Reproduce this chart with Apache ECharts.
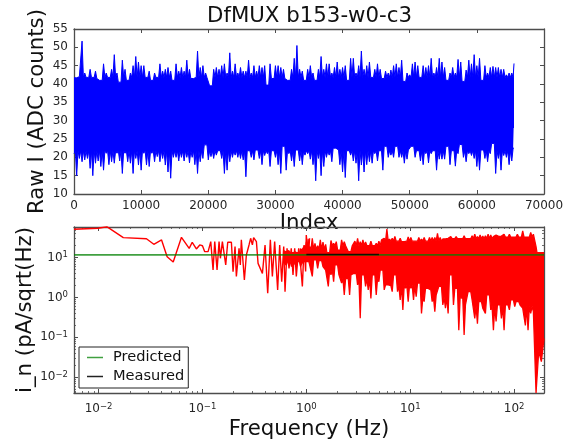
<!DOCTYPE html>
<html><head><meta charset="utf-8">
<style>html,body{margin:0;padding:0;background:#fff}#c{width:575px;height:442px}</style>
<script src="https://cdn.jsdelivr.net/npm/echarts@6/dist/echarts.min.js"></script></head>
<body><div id="c"></div>
<script>
const titleText = 'DfMUX b153-w0-c3';
const indexStep = 400, lastIndex = 65536;
const rawCoreTop = 41.8, rawCoreBottom = 21.8;
const rawUpper = [41.7,41.7,42,51.7,43,42,44,42,43.5,41.5,41,45.5,43,42,44,48,43,40.5,46.5,44,41,43,45,47.5,46,45,45,42,43.5,41,43,42,45.5,43.5,44,44.5,43.5,41,45.5,43.5,44.5,43.5,46.5,44,41.5,42,49,44.5,45,43,42,39.5,44,44.5,44,45,45.5,
43,48.5,43.5,45.5,43,44.5,43.5,43.5,46.5,43,45,43.5,45,44.5,45,39.7,45.5,41.5,45,45,44.5,44,41.5,41,44,47,50.5,44,43.5,41,44,45,43,41,44,47.5,44,45.5,45.5,43,44.5,46,44,44.5,45,41,47,47,43,45,49,44,45,46,42,44,45.5,
44,41.5,43.5,43,43.8,45,45.5,44.5,46.5,40.7,43,42.5,45.5,46,45,42,45,44.5,45,47,43,44.5,47,46,44.5,41,43,44.5,43,46.7,46,40.7,43.8,46.5,45.5,48,45,47,41,45,43,44.5,44.8,44.5,44.5,44,44,42.5,43,43,45.6];
const rawLower = [21,15,19.7,18.8,19.3,19.7,17,15,18.4,19,17.5,16.5,21.1,18,18.8,18.4,21.1,19,15.6,21.1,18.8,18.4,15.6,19.7,17.9,16.5,21.1,17.9,17.5,21.1,18.8,20.2,18.8,19.7,17.9,16,14.3,20,20,19,20,19,20,18.5,20,18,15.6,18.8,19.7,23.4,19.3,20.2,19.7,20.6,21.5,19.7,15.6,
16.5,18.8,20,20.6,20,19.7,19.3,14.7,21.5,20,19.3,22,19.7,18,20.5,21,17.5,21.5,20,18,15.6,23,16.5,21,19,17.5,22,19,18,20.6,21,19.5,18,13.6,19.7,15,17.5,20,20.6,18.8,22.5,22,18,16,14.5,21.5,20.6,19,18.4,13.6,17.9,16,18,18.8,18.4,21,19,
21.5,16.5,23,20,20.6,20,23,20,20,18.4,19.5,22,23,20,21.5,19,18,21,18.5,21,21.5,16.5,19.5,19.5,19.5,23,18,21.5,17.6,21,23.5,20,18.8,21,20.5,19.7,17.5,16.5,22,19.7,18.8,21,23.8,15.6,19.7,16.5,20.5,20,18,19,22.5];

const lowFreq = [0.0058,0.0099,0.012,0.0173,0.0289,0.034,0.0404,0.0457,0.0523,0.0628,0.0745,0.0797,0.0874,0.0942,0.1,0.1052,0.1133,0.1202,0.1265,0.1313,0.1382,0.1445,0.1488,0.1555,0.1675,0.1751,0.1899,0.197,0.2059,0.212,0.225,0.2315,0.2368,0.2532,0.2647,0.2807,0.291,0.3024,0.311,0.3306,0.343,0.3777,0.4004,0.4248,0.4503,0.471,0.4955,0.5294,0.5539,0.5793,0.6057,0.6236,0.6519,0.6811,0.7159,0.7442,0.7724,0.8007,0.844,0.8827,0.9156,0.9514,0.9844,0.9985,1.046,1.074];
const lowNoise = [52,55,60,32,30,21.7,27.9,10.6,7.8,32.5,17.2,24.4,16.6,20.9,20,14.2,14.2,25.3,4.9,25.3,4.9,25.3,9.66,25.3,6.6,24.5,24.5,4.46,19,3.4,17.2,6.6,28,2.75,11.7,20.9,30.7,20.9,32,25.3,7.2,4,20.9,1.28,28,3.4,25.3,1.55,20.9,2.5,19,1.4,17.2,5.4,17.2,3.7,17.2,3.4,17.2,6,1.9,20.9,4.5,37,9.7,30.7];
const bandFreq = [0.6,0.64,0.68,0.72,0.76,0.8,0.84,0.88,0.92,0.96,1.0,1.04,1.076,1.141,1.211,1.285,1.363,1.446,1.534,1.627,1.726,1.831,1.942,2.06,2.185,2.318,2.459,2.609,2.767,2.935,3.114,3.303,3.504,3.717,3.943,4.183,4.437,4.707,4.993,5.297,5.619,5.961,6.323,6.708,7.116,7.548,8.007,8.494,9.011,9.559,10.14,10.76,11.41,12.1,12.84,13.62,14.45,15.33,16.26,17.25,18.3,19.41,20.59,21.84,23.17,24.58,26.08,27.66,29.35,31.13,33.02,35.03,37.16,39.42,41.82,44.36,47.06,49.92,52.96,56.18,59.59,63.22,67.06,71.14,75.47,80.06,84.92,90.09,95.57,101.4,107.5,114.1,121,128.4,136.2,144.5,153.3,162.6,172.5,183,194];
const bandUpper = [15,14,15,13,14,15,13,17,15,20,25,30,19,30.7,23,20,28,24.5,21.5,13,27,23,25.3,15.5,28,25.3,21.5,14.2,20,26,30.7,25.3,28,25,21,26,21,23,26,28,30.7,52,29.5,30.7,34,28,30.7,25.3,28,33,32,29,28,32,29.5,32,
28,32,32,32,41,32,29.5,29.5,30.7,34,32,34,32,30.7,35.5,32,33,35.5,39,34,37,35,35.5,39,37,34,37,34.5,35,39,35.5,39,35.5,35,39,37,47,37,35,43,39,19,7.2,2.3,2.07];
const bandLower = [8,6.5,8,6,7,6,8,6,7,8,8,8,6.6,3.4,8.8,5.4,8.4,6,4.9,1.9,3.7,2.5,6.6,3.7,2.3,1.16,3,1.16,3.7,4,2.07,0.3,3.7,1.9,1.55,0.95,3.7,1.16,2.5,4.9,1.55,2.07,1.9,1.4,3.7,1.4,0.87,0.49,1.7,0.79,1.7,0.87,1.05,2.3,0.4,0.79,
1.7,1.55,0.79,0.44,1.16,1.9,0.65,0.54,0.4,3.7,0.65,1.7,0.15,0.95,0.115,0.65,1.4,0.87,0.3,0.22,0.79,0.54,0.4,1.16,0.49,0.15,0.25,0.65,0.3,0.15,0.65,0.49,0.87,0.59,0.79,0.65,0.54,0.2,0.15,0.4,0.44,0.004,0.044,0.0245,0.094];
// solid-core edges of the red band, read per frequency range [up to Hz, level]
const coreUpperSteps = [[1.7,16],[5,20],[20,26],[60,30],[150,33]];
const coreLowerSteps = [[2,5],[5,3],[12,2],[30,1],[150,0.6]];
const predictedFreq = [0.0058,194], predictedNoise = [11.8,11.8];
const measuredFreq = [1,5], measuredNoise = [12,12];
const freqMin = 0.0058, freqMax = 194, noiseMin = 0.004, noiseMax = 59;
const freqMinorTicks = [0.006,0.007,0.008,0.009,0.02,0.03,0.04,0.05,0.06,0.07,0.08,0.09,0.2,0.3,0.4,0.5,0.6,0.7,0.8,0.9,2,3,4,5,6,7,8,9,20,30,40,50,60,70,80,90];
const noiseMinorTicks = [0.004,0.005,0.006,0.007,0.008,0.009,0.02,0.03,0.04,0.05,0.06,0.07,0.08,0.09,0.2,0.3,0.4,0.5,0.6,0.7,0.8,0.9,2,3,4,5,6,7,8,9,20,30,40,50];

const font = 'DejaVu Sans';
const ink = '#262626', frame = '#4d4d4d';
const zip = (xs, ys) => xs.map((x, i) => [x, ys[i]]);

// peak, then a dip down to the solid core level, then the next peak
const rawSeries = (vals, core, pick) => {
  const out = [];
  vals.forEach((v, i) => {
    const x = Math.min(i * indexStep, lastIndex);
    out.push([x, v]);
    if (i < vals.length - 1) out.push([Math.min(x + indexStep / 2, lastIndex), pick(core, v, vals[i + 1])]);
  });
  return out;
};
const bandSeries = (vals, steps, pick) => {
  const out = [];
  vals.forEach((v, i) => {
    out.push([bandFreq[i], v]);
    if (i === vals.length - 1) return;
    const s = steps.find(p => bandFreq[i] < p[0]);
    if (s) out.push([Math.sqrt(bandFreq[i] * bandFreq[i + 1]), pick(s[1], v, vals[i + 1])]);
  });
  return out;
};

const powLabel = v => {
  const e = Math.log10(v), r = Math.round(e);
  if (Math.abs(e - r) > 1e-6) return '';
  return '10{s|' + String(r).replace('-', '\u2212') + '}';
};
const logLabel = {
  fontFamily: font, fontSize: 12, color: ink, formatter: powLabel,
  rich: { s: { fontFamily: font, fontSize: 8.5, color: ink, verticalAlign: 'top', padding: [0, 0, 5, 0] } }
};
const line = { show: true, onZero: false, lineStyle: { color: frame, width: 1.3 } };
const tick = { show: true, inside: true, length: 4, lineStyle: { color: frame, width: 1 } };
const nameStyle = { fontFamily: font, fontSize: 21.3, color: '#111' };
const off = { show: false };

const xLin = { type: 'value', min: 0, max: 70000, interval: 10000, splitLine: off, axisLine: line, axisTick: tick };
const yLin = { type: 'value', min: 10, max: 55, interval: 5, splitLine: off, axisLine: line, axisTick: tick };
const xLog = { type: 'log', logBase: 10, min: freqMin, max: freqMax, splitLine: off, axisLine: line, axisTick: tick };
const yLog = { type: 'log', logBase: 10, min: noiseMin, max: noiseMax, splitLine: off, axisLine: line, axisTick: tick };
const plain = { fontFamily: font, fontSize: 12, color: ink, formatter: v => String(v) };
const minorOf = (base, vals) => ({ ...base, axisLine: off, axisLabel: off, axisTick: { show: true, inside: true, length: 2, customValues: vals, lineStyle: { color: frame, width: 0.8 } } });

const option = {
  animation: false,
  backgroundColor: '#fff',
  title: { text: titleText, left: 207, top: 6, textStyle: { fontFamily: font, fontSize: 21.3, fontWeight: 'normal', color: '#111' }, padding: 0 },
  grid: [
    { left: 74, top: 29, width: 470, height: 165 },
    { left: 74, top: 227, width: 470, height: 166 }
  ],
  xAxis: [
    { ...xLin, gridIndex: 0, position: 'bottom', axisLabel: { ...plain, margin: 6 }, name: 'Index', nameLocation: 'middle', nameGap: 19, nameMoveOverlap: false, nameTextStyle: nameStyle },
    { ...xLin, gridIndex: 0, position: 'top', axisLabel: off },
    { ...xLog, gridIndex: 1, position: 'bottom', axisLabel: { ...logLabel, margin: 9 }, name: 'Frequency (Hz)', nameLocation: 'middle', nameGap: 26, nameMoveOverlap: false, nameTextStyle: nameStyle },
    { ...xLog, gridIndex: 1, position: 'top', axisLabel: off },
    { ...minorOf(xLog, freqMinorTicks), gridIndex: 1, position: 'bottom' },
    { ...minorOf(xLog, freqMinorTicks), gridIndex: 1, position: 'top' }
  ],
  yAxis: [
    { ...yLin, gridIndex: 0, position: 'left', axisLabel: { ...plain, margin: 6 }, name: 'Raw I (ADC counts)', nameLocation: 'middle', nameGap: 26, nameMoveOverlap: false, nameTextStyle: nameStyle },
    { ...yLin, gridIndex: 0, position: 'right', axisLabel: off },
    { ...yLog, gridIndex: 1, position: 'left', axisLabel: { ...logLabel, margin: 6 }, name: 'i_n (pA/sqrt(Hz)', nameLocation: 'middle', nameGap: 38, nameMoveOverlap: false, nameTextStyle: nameStyle },
    { ...yLog, gridIndex: 1, position: 'right', axisLabel: off },
    { ...minorOf(yLog, noiseMinorTicks), gridIndex: 1, position: 'left' },
    { ...minorOf(yLog, noiseMinorTicks), gridIndex: 1, position: 'right' }
  ],
  legend: {
    left: 79, top: 347, orient: 'vertical',
    data: [{ name: 'Predicted', icon: 'rect' }, { name: 'Measured', icon: 'rect' }],
    backgroundColor: '#fff', borderColor: '#222', borderWidth: 1, borderRadius: 0,
    padding: [3, 4, 4, 8], itemGap: 4, itemWidth: 16, itemHeight: 1.5,
    textStyle: { fontFamily: font, fontSize: 14.6, color: '#111', padding: [0, 0, 0, 5] }, z: 20
  },
  series: [
    { name: 'Raw upper', type: 'line', xAxisIndex: 0, yAxisIndex: 0, data: rawSeries(rawUpper, rawCoreTop, Math.min), symbol: 'none', lineStyle: { color: '#0000ff', width: 1 }, areaStyle: { color: '#0000ff', opacity: 1, origin: 28 } },
    { name: 'Raw lower', type: 'line', xAxisIndex: 0, yAxisIndex: 0, data: rawSeries(rawLower, rawCoreBottom, Math.max), symbol: 'none', lineStyle: { color: '#0000ff', width: 1 }, areaStyle: { color: '#0000ff', opacity: 1, origin: 32 } },
    { name: 'Noise low', type: 'line', xAxisIndex: 2, yAxisIndex: 2, data: zip(lowFreq, lowNoise), symbol: 'none', lineStyle: { color: '#ff0000', width: 1.4 } },
    { name: 'Noise upper', type: 'line', xAxisIndex: 2, yAxisIndex: 2, data: bandSeries(bandUpper, coreUpperSteps, Math.min), symbol: 'none', lineStyle: { color: '#ff0000', width: 1.3 }, areaStyle: { color: '#ff0000', opacity: 1, origin: 10 } },
    { name: 'Noise lower', type: 'line', xAxisIndex: 2, yAxisIndex: 2, data: bandSeries(bandLower, coreLowerSteps, Math.max), symbol: 'none', lineStyle: { color: '#ff0000', width: 1.3 }, areaStyle: { color: '#ff0000', opacity: 1, origin: 14 } },
    { name: 'Predicted', type: 'line', xAxisIndex: 2, yAxisIndex: 2, data: zip(predictedFreq, predictedNoise), symbol: 'none', color: '#40a040', lineStyle: { color: 'rgba(0,128,0,0.75)', width: 1.6 }, z: 5 },
    { name: 'Measured', type: 'line', xAxisIndex: 2, yAxisIndex: 2, data: zip(measuredFreq, measuredNoise), symbol: 'none', color: '#222', lineStyle: { color: 'rgba(0,0,0,0.8)', width: 1.4 }, z: 6 }
  ]
};
echarts.init(document.getElementById('c'), null, { renderer: 'canvas' }).setOption(option);
</script></body></html>
